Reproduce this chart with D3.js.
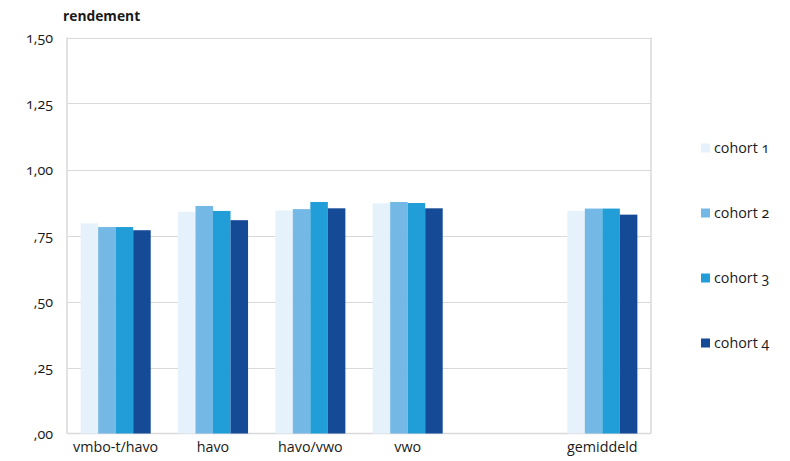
<!DOCTYPE html>
<html>
<head>
<meta charset="utf-8">
<script src="https://cdn.jsdelivr.net/npm/d3@7"></script>
<style>
  body { margin: 0; background: #fff; }
  svg text { font-family: "Open Sans", "Noto Sans", sans-serif; font-variant-numeric: oldstyle-nums; font-feature-settings: "onum" 1; fill: #1a1a1a; }
</style>
</head>
<body>
<svg id="chart" width="790" height="461"></svg>
<script>
// School tracks along the x-axis; the blank slot separates the average group
const categories = ["vmbo-t/havo", "havo", "havo/vwo", "vwo", "", "gemiddeld"];
const seriesNames = ["cohort 1", "cohort 2", "cohort 3", "cohort 4"];
const cohort1 = [0.796, 0.840, 0.845, 0.872, null, 0.843];
const cohort2 = [0.782, 0.862, 0.850, 0.877, null, 0.852];
const cohort3 = [0.782, 0.843, 0.877, 0.873, null, 0.852];
const cohort4 = [0.770, 0.808, 0.853, 0.853, null, 0.829];
const yTicks = [0, 0.25, 0.5, 0.75, 1.0, 1.25, 1.5];
const yTickLabels = [",00", ",25", ",50", ",75", "1,00", "1,25", "1,50"];
const colors = ["#e6f2fb", "#74b9e5", "#219dd8", "#154b96"];

const series = [cohort1, cohort2, cohort3, cohort4];

const svg = d3.select("#chart");
const margin = { left: 67, right: 139, top: 37.5, bottom: 27.5 };
const W = 790, H = 461;
const x0 = margin.left, x1 = W - margin.right;
const yTop = margin.top, yBot = H - margin.bottom;
const fs = 14.3;

const x = d3.scaleBand().domain(d3.range(categories.length)).range([x0, x1])
  .paddingInner(0.28).paddingOuter(0.14);
const xs = d3.scaleBand().domain(d3.range(series.length)).range([0, x.bandwidth()]);
const y = d3.scaleLinear().domain([0, 1.5]).range([yBot, yTop]);

// horizontal gridlines
svg.append("g").selectAll("line").data(yTicks.filter(d => d > 0)).join("line")
  .attr("x1", x0).attr("x2", x1)
  .attr("y1", d => Math.round(y(d)) + 0.5).attr("y2", d => Math.round(y(d)) + 0.5)
  .attr("stroke", "#d9d9d9").attr("stroke-width", 1);

// plot frame: left, right, bottom
const frame = svg.append("g").attr("stroke", "#d9d9d9").attr("stroke-width", 1.5).attr("fill", "none");
frame.append("line").attr("x1", x0).attr("x2", x0).attr("y1", yTop).attr("y2", yBot);
frame.append("line").attr("x1", x1).attr("x2", x1).attr("y1", yTop).attr("y2", yBot);
frame.append("line").attr("x1", x0).attr("x2", x1).attr("y1", yBot).attr("y2", yBot);

// bars
series.forEach((vals, si) => {
  svg.append("g").selectAll("rect")
    .data(vals.map((v, i) => ({ v, i })).filter(d => d.v != null))
    .join("rect")
    .attr("x", d => x(d.i) + xs(si))
    .attr("width", xs.bandwidth())
    .attr("y", d => y(d.v))
    .attr("height", d => y(0) - y(d.v))
    .attr("fill", colors[si]);
});

// y axis labels
const yAxis = d3.axisLeft(y).tickValues(yTicks)
  .tickFormat((d, i) => yTickLabels[i]).tickSize(0).tickPadding(14);
const gy = svg.append("g").attr("transform", `translate(${x0},0)`).call(yAxis);
gy.select(".domain").remove();
gy.selectAll("text").attr("font-size", fs).attr("fill", "#1a1a1a");

// x axis labels
const xAxis = d3.axisBottom(x).tickFormat(i => categories[i]).tickSize(0).tickPadding(8);
const gx = svg.append("g").attr("transform", `translate(0,${yBot})`).call(xAxis);
gx.select(".domain").remove();
gx.selectAll("text").attr("font-size", fs).attr("fill", "#1a1a1a");

// axis title
svg.append("text").attr("x", 63).attr("y", 21).attr("font-size", 13.8)
  .attr("font-weight", "bold").text("rendement");

// legend
const legend = svg.append("g");
seriesNames.forEach((name, i) => {
  const cy = 148 + i * 65;
  legend.append("rect").attr("x", 701).attr("y", cy - 4.5).attr("width", 9).attr("height", 9)
    .attr("fill", colors[i]);
  legend.append("text").attr("x", 714).attr("y", cy).attr("dy", "0.35em")
    .attr("font-size", fs).text(name);
});
</script>
</body>
</html>
